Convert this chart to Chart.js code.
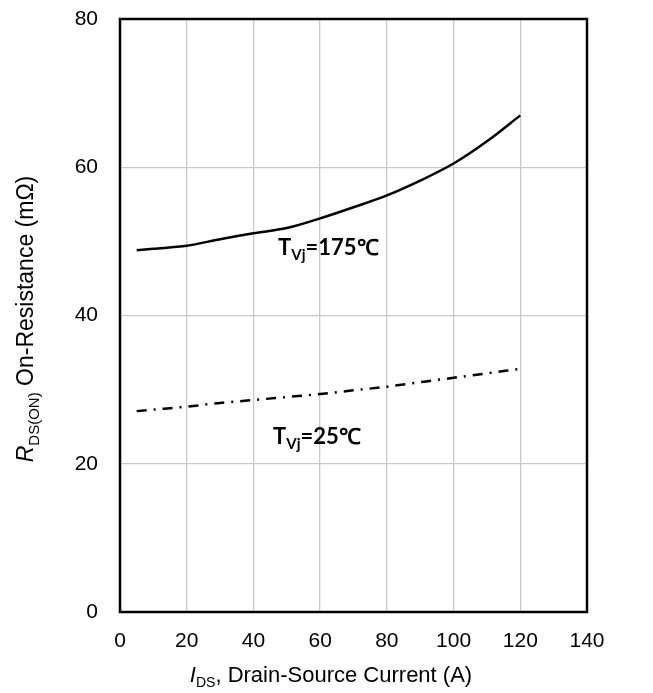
<!DOCTYPE html>
<html>
<head>
<meta charset="utf-8">
<script src="https://cdn.jsdelivr.net/npm/chart.js@4"></script>
<style>
  html, body { margin: 0; padding: 0; background: #fff; }
  #wrap { width: 653px; height: 693px; }
</style>
</head>
<body>
<div id="wrap"><canvas id="chart"></canvas></div>
<script>
// drain current, A
const currents = [5, 10, 20, 30, 40, 50, 60, 70, 80, 90, 100, 110, 120];
// on-resistance at Tvj = 175 C, mOhm
const rds175 = [48.8, 49.0, 49.4, 50.3, 51.1, 51.8, 53.1, 54.6, 56.2, 58.2, 60.5, 63.5, 67.0];
// on-resistance at Tvj = 25 C, mOhm
const rds25 = [27.1, 27.3, 27.7, 28.2, 28.6, 29.0, 29.4, 29.9, 30.4, 31.0, 31.6, 32.2, 32.8];

const xTicks = [0, 20, 40, 60, 80, 100, 120, 140];
const yTicks = [0, 20, 40, 60, 80];

const toPoints = (ys) => currents.map((x, i) => ({ x: x, y: ys[i] }));

const base = 'Liberation Sans, Arial, sans-serif';
const tickFont = { family: base, size: 21 };

// write a run of text pieces (normal / italic / subscript) one after another
function drawRun(ctx, parts, x, y) {
  parts.forEach(p => {
    ctx.font = p.f;
    ctx.fillText(p.t, x, y + p.dy);
    x += ctx.measureText(p.t).width;
  });
}
function runWidth(ctx, parts) {
  return parts.reduce((w, p) => { ctx.font = p.f; return w + ctx.measureText(p.t).width; }, 0);
}

// box around the plot area, curve labels and axis titles with subscripts
const decorations = {
  id: 'decorations',
  afterDraw(chart) {
    const ctx = chart.ctx;
    const a = chart.chartArea;
    const xs = chart.scales.x;
    const ys = chart.scales.y;
    ctx.save();
    ctx.strokeStyle = '#000';
    ctx.lineWidth = 2.5;
    ctx.strokeRect(a.left, a.top, a.right - a.left, a.bottom - a.top);

    ctx.fillStyle = '#000';
    ctx.textBaseline = 'alphabetic';
    ctx.textAlign = 'left';

    const tempLabel = (value, xv, yv) => {
      const bold = 'bold 22px Lato, "Open Sans", sans-serif';
      drawRun(ctx, [
        { t: 'T', f: bold, dy: 0 },
        { t: 'Vj', f: 'bold 15px Lato, "Open Sans", sans-serif', dy: 5 },
        { t: '=' + value + '℃', f: bold, dy: 0 }
      ], xs.getPixelForValue(xv), ys.getPixelForValue(yv));
    };
    tempLabel('175', 47.4, 48.2);
    tempLabel('25', 45.9, 22.7);

    // x title: I_DS, Drain-Source Current (A)
    const partsX = [
      { t: 'I', f: 'italic 22px ' + base, dy: 0 },
      { t: 'DS', f: '14px ' + base, dy: 5 },
      { t: ', Drain-Source Current (A)', f: '22px ' + base, dy: 0 }
    ];
    drawRun(ctx, partsX, 331 - runWidth(ctx, partsX) / 2, 682);

    // y title: R_DS(ON) On-Resistance (mΩ)
    const partsY = [
      { t: 'R', f: 'italic 23px ' + base, dy: 0 },
      { t: 'DS(ON)', f: '15px ' + base, dy: 6 },
      { t: ' On-Resistance (mΩ)', f: '23px ' + base, dy: 0 }
    ];
    const wy = runWidth(ctx, partsY);
    ctx.translate(33, 319);
    ctx.rotate(-Math.PI / 2);
    drawRun(ctx, partsY, -wy / 2, 0);
    ctx.restore();
  }
};

new Chart(document.getElementById('chart'), {
  type: 'line',
  data: {
    datasets: [
      {
        label: 'Tvj=175℃',
        data: toPoints(rds175),
        borderColor: '#000',
        borderWidth: 2.5,
        pointRadius: 0,
        cubicInterpolationMode: 'monotone',
        fill: false
      },
      {
        label: 'Tvj=25℃',
        data: toPoints(rds25),
        borderColor: '#000',
        borderWidth: 2.5,
        borderDash: [10, 7, 2, 7],
        pointRadius: 0,
        cubicInterpolationMode: 'monotone',
        fill: false
      }
    ]
  },
  options: {
    responsive: true,
    maintainAspectRatio: false,
    animation: false,
    layout: { padding: { left: 0, top: 19, right: 66, bottom: 0 } },
    plugins: {
      legend: { display: false },
      tooltip: { enabled: false }
    },
    scales: {
      x: {
        type: 'linear',
        min: 0,
        max: 140,
        afterBuildTicks: (s) => { s.ticks = xTicks.map(v => ({ value: v })); },
        afterFit: (s) => { s.height = 81; s.paddingLeft = 0; s.paddingRight = 0; },
        grid: { color: '#c8c8c8', lineWidth: 1.3, drawTicks: false },
        border: { display: false },
        ticks: { color: '#000', font: tickFont, padding: 17, maxRotation: 0 }
      },
      y: {
        min: 0,
        max: 80,
        afterBuildTicks: (s) => { s.ticks = yTicks.map(v => ({ value: v })); },
        afterFit: (s) => { s.width = 120; s.paddingTop = 0; s.paddingBottom = 0; },
        grid: { color: '#c8c8c8', lineWidth: 1.3, drawTicks: false },
        border: { display: false },
        ticks: { color: '#000', font: tickFont, padding: 22 }
      }
    }
  },
  plugins: [decorations]
});
</script>
</body>
</html>
